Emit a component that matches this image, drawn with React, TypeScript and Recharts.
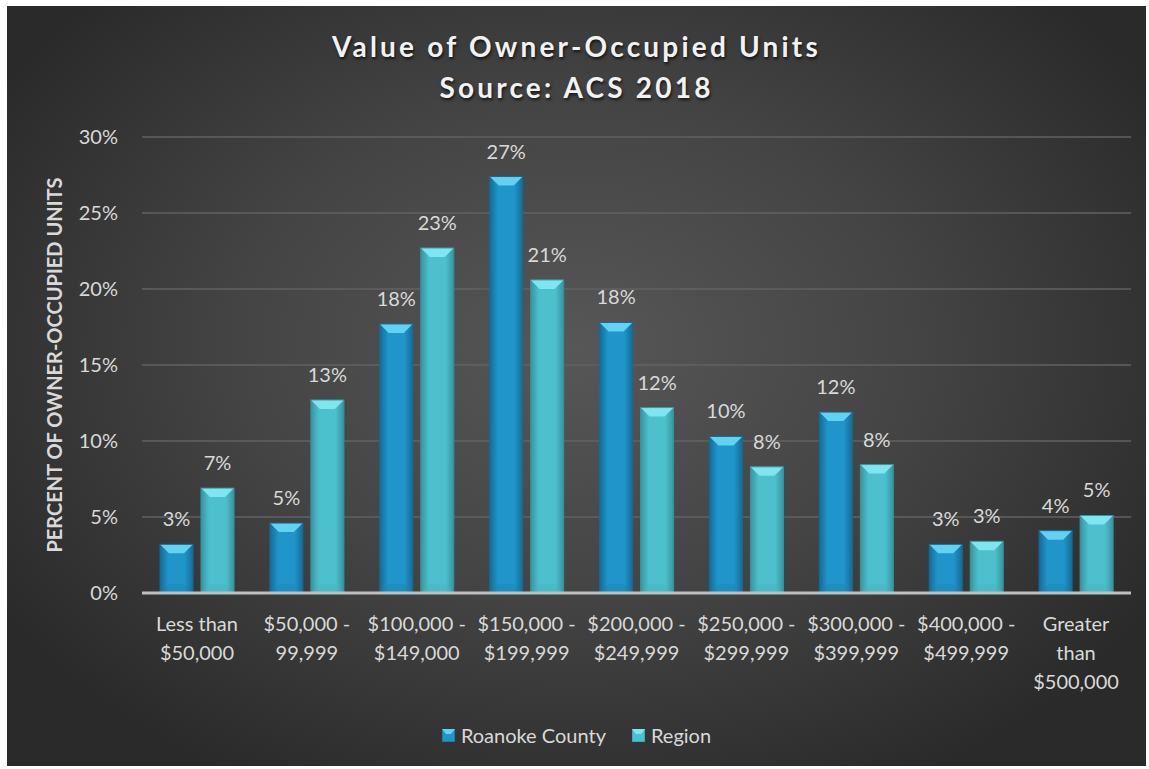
import React from 'react';
import { BarChart, Bar, XAxis, YAxis, CartesianGrid, LabelList } from 'recharts';

const categories = [
    'Less than\n$50,000',
    '$50,000 -\n99,999',
    '$100,000 -\n$149,000',
    '$150,000 -\n$199,999',
    '$200,000 -\n$249,999',
    '$250,000 -\n$299,999',
    '$300,000 -\n$399,999',
    '$400,000 -\n$499,999',
    'Greater\nthan\n$500,000',
];
const roanoke = [3.2, 4.6, 17.7, 27.4, 17.8, 10.3, 11.9, 3.2, 4.1];
const region = [6.9, 12.7, 22.7, 20.6, 12.2, 8.3, 8.45, 3.4, 5.1];
const yTicks = [0, 5, 10, 15, 20, 25, 30];

const seriesNames = ['Roanoke County', 'Region'];

const data = categories.map((name, i) => ({
    name,
    roanoke: roanoke[i],
    region: region[i],
}));

const FONT = 'Lato, "Open Sans", sans-serif';
const TEXT = '#d9d9d9';
const W = 1139;
const H = 760;

const palette: Record<string, { mid: string; edge: string; top: string; bottom: string }> = {
    roanoke: { mid: '#1f95c9', edge: '#156b97', top: '#62d2f2', bottom: '#1a80b0' },
    region: { mid: '#4cc1cd', edge: '#37949f', top: '#7fe6f0', bottom: '#45b2bd' },
};

const BevelBar = (props: any) => {
    const { x, y, width, height, dataKey } = props;
    if (!height || height <= 0) return null;
    const c = palette[dataKey];
    const b = Math.min(9, height / 2);
    return (
        <g>
            <rect x={x} y={y} width={width} height={height} fill={`url(#grad-${dataKey})`} />
            <polygon
                points={`${x},${y} ${x + width},${y} ${x + width - b},${y + b} ${x + b},${y + b}`}
                fill={c.top}
            />
            <polygon
                points={`${x},${y + height} ${x + width},${y + height} ${x + width - b},${y + height - b} ${x + b},${y + height - b}`}
                fill={c.bottom}
                opacity={0.35}
            />
            <rect x={x} y={y} width={width} height={height} fill="none" stroke={c.edge} strokeWidth={1} />
        </g>
    );
};

const CategoryTick = ({ x, y, payload }: any) => {
    const lines = String(payload.value).split('\n');
    return (
        <g transform={`translate(${x},${y})`}>
            {lines.map((line, i) => (
                <text
                    key={i}
                    x={0}
                    y={30 + i * 29}
                    textAnchor="middle"
                    fill={TEXT}
                    fontSize={20}
                    fontFamily={FONT}
                >
                    {line}
                </text>
            ))}
        </g>
    );
};

const LegendIcon = ({ k }: { k: string }) => {
    const c = palette[k];
    return (
        <svg width={13} height={13} style={{ marginRight: 6 }}>
            <rect x={0} y={0} width={13} height={13} fill={c.mid} stroke={c.edge} />
            <polygon points="0,0 13,0 9,5 4,5" fill={c.top} />
        </svg>
    );
};

const App: React.FC = () => {
    return (
        <div
            style={{
                position: 'absolute',
                left: 7,
                top: 6,
                width: W,
                height: H,
                background: 'radial-gradient(ellipse 60% 65% at 50% 45%, #575757 0%, #444444 50%, #2a2a2a 100%)',
                fontFamily: FONT,
            }}
        >
            <div
                style={{
                    position: 'absolute',
                    top: 20,
                    left: 0,
                    width: W,
                    textAlign: 'center',
                    color: '#f2f2f2',
                    fontWeight: 700,
                    fontSize: 28,
                    lineHeight: '41px',
                    letterSpacing: 3.2,
                    textShadow: '1px 2px 3px rgba(0,0,0,0.7)',
                }}
            >
                <div>Value of Owner-Occupied Units</div>
                <div>Source: ACS 2018</div>
            </div>
            <BarChart
                width={W}
                height={H}
                data={data}
                margin={{ top: 131, right: 15, bottom: 143, left: 0 }}
                barSize={33}
                barGap={8}
            >
                <defs>
                    {Object.keys(palette).map(k => (
                        <linearGradient key={k} id={`grad-${k}`} x1="0" y1="0" x2="1" y2="0">
                            <stop offset="0%" stopColor={palette[k].edge} />
                            <stop offset="25%" stopColor={palette[k].mid} />
                            <stop offset="75%" stopColor={palette[k].mid} />
                            <stop offset="100%" stopColor={palette[k].edge} />
                        </linearGradient>
                    ))}
                </defs>
                <CartesianGrid vertical={false} stroke="#626262" strokeWidth={1.5} />
                <XAxis
                    dataKey="name"
                    height={30}
                    axisLine={{ stroke: '#bfbfbf', strokeWidth: 3 }}
                    tickLine={false}
                    tick={<CategoryTick />}
                    interval={0}
                />
                <YAxis
                    width={135}
                    domain={[0, 30]}
                    ticks={yTicks}
                    tickFormatter={(v: number) => `${v}%`}
                    axisLine={false}
                    tickLine={false}
                    tickSize={0}
                    tickMargin={24}
                    tick={{ fill: TEXT, fontSize: 20, fontFamily: FONT }}
                    label={{
                        value: 'PERCENT OF OWNER-OCCUPIED UNITS',
                        angle: -90,
                        position: 'insideLeft',
                        dx: 43,
                        style: { fill: TEXT, fontSize: 20, fontWeight: 700, fontFamily: FONT, textAnchor: 'middle' },
                    }}
                />
                <Bar dataKey="roanoke" name={seriesNames[0]} shape={<BevelBar />} isAnimationActive={false}>
                    <LabelList
                        dataKey="roanoke"
                        position="top"
                        offset={18}
                        formatter={(v: any) => `${Math.round(v)}%`}
                        style={{ fill: TEXT, fontSize: 20, fontFamily: FONT }}
                    />
                </Bar>
                <Bar dataKey="region" name={seriesNames[1]} shape={<BevelBar />} isAnimationActive={false}>
                    <LabelList
                        dataKey="region"
                        position="top"
                        offset={18}
                        formatter={(v: any) => `${Math.round(v)}%`}
                        style={{ fill: TEXT, fontSize: 20, fontFamily: FONT }}
                    />
                </Bar>
            </BarChart>
            <div
                style={{
                    position: 'absolute',
                    top: 716,
                    left: 0,
                    width: W,
                    display: 'flex',
                    justifyContent: 'center',
                    gap: 26,
                    color: TEXT,
                    fontSize: 20,
                    lineHeight: '26px',
                }}
            >
                {['roanoke', 'region'].map((k, i) => (
                    <div key={k} style={{ display: 'flex', alignItems: 'center' }}>
                        <LegendIcon k={k} />
                        <span>{seriesNames[i]}</span>
                    </div>
                ))}
            </div>
        </div>
    );
};

export default App;
